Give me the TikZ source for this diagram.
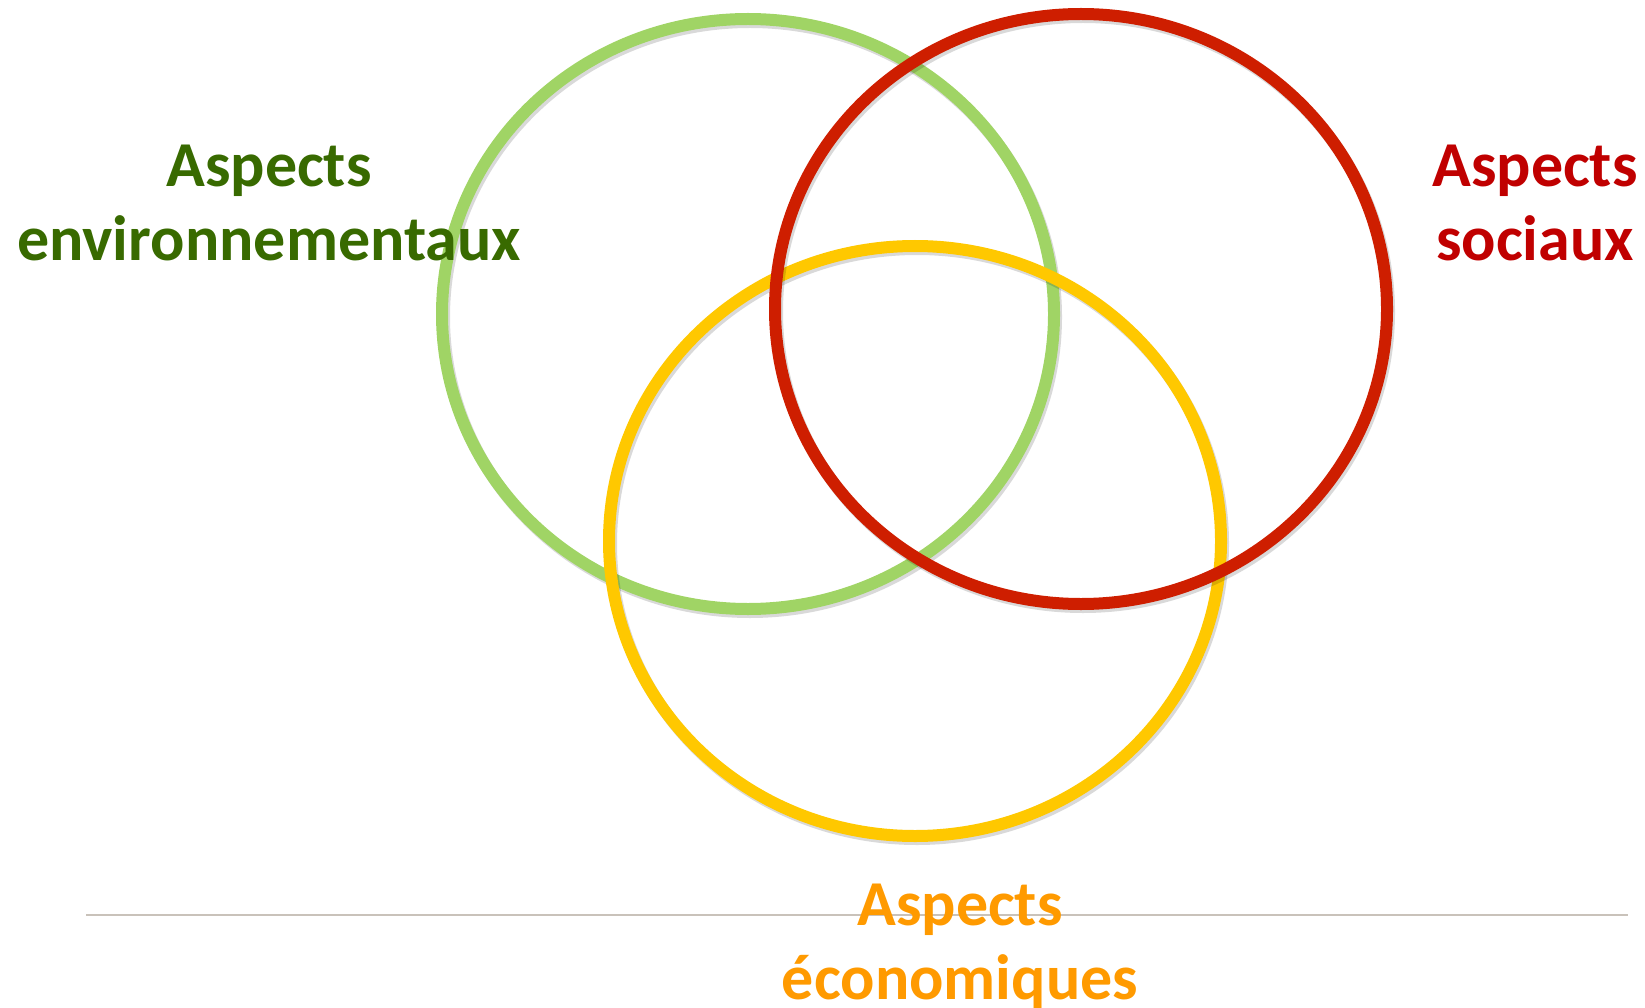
\documentclass[tikz,border=0pt]{standalone}
\usepackage{fontspec}
\setmainfont{Carlito}
\usepackage{tikz}
\usetikzlibrary{calc}
\definecolor{envgreen}{HTML}{A0D465}
\definecolor{socred}{HTML}{CE1E00}
\definecolor{ecoyellow}{HTML}{FFC800}
\definecolor{envtext}{HTML}{386A00}
\definecolor{soctext}{HTML}{C00000}
\definecolor{ecotext}{HTML}{FF9A00}
\definecolor{rule}{HTML}{C9C2BA}
\begin{document}
\begin{tikzpicture}[x=1pt, y=-1pt,
  ring/.style={line width=12pt},
  shade/.style={line width=12pt, black, opacity=.15},
  label/.style={font=\bfseries\fontsize{64}{74}\selectfont, align=center, anchor=base, inner sep=0pt}]
\useasboundingbox (0,0) rectangle (1645,1008);
% bottom rule
\coordinate (ruleL) at (86,915);
\coordinate (ruleR) at (1628,915);
\draw[rule, line width=1.5pt] (ruleL) -- (ruleR);
% the three rings, green under yellow under red
\foreach \cx/\cy/\col in {748/314/envgreen, 915/541/ecoyellow, 1081/309/socred} {
  \draw[shade] (\cx+2,\cy+3) ellipse [x radius=306, y radius=295];
  \draw[ring, \col] (\cx,\cy) ellipse [x radius=306, y radius=295];
}
% base = baseline of the last line
\node[label, envtext] (env) at (269,261) {Aspects\\environnementaux};
\node[label, soctext] (soc) at (1535,261) {Aspects\\sociaux};
\node[label, ecotext] (eco) at (960,999) {Aspects\\économiques};
\end{tikzpicture}
\end{document}
